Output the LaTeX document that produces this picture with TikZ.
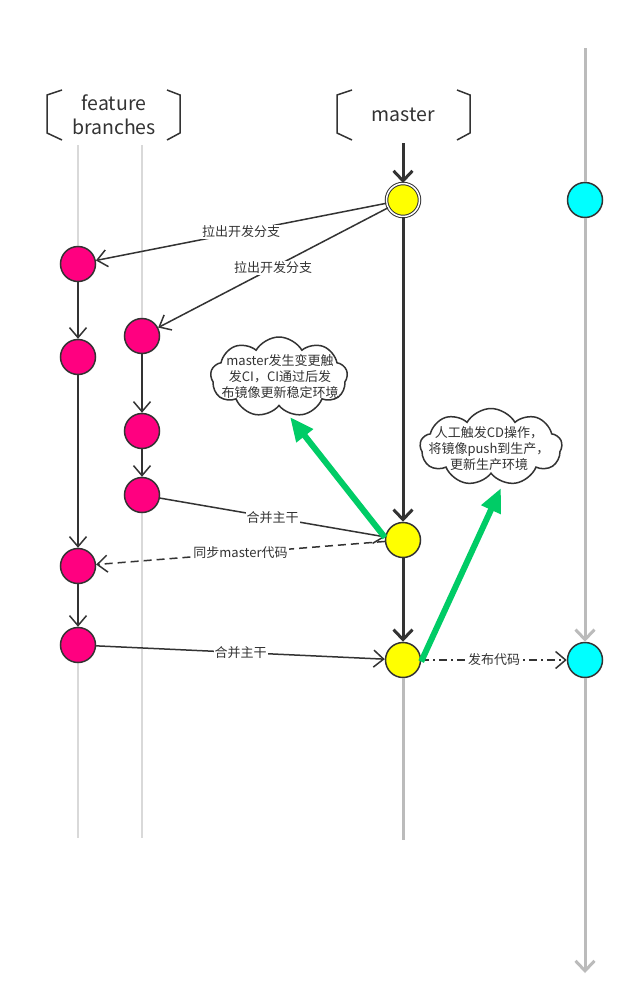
\documentclass[tikz,border=0pt]{standalone}
\usepackage{fontspec}
\setmainfont{Noto Sans CJK SC}
\usetikzlibrary{arrows.meta,shapes.symbols}
\definecolor{ink}{HTML}{333333}
\definecolor{pinkc}{HTML}{FF0080}
\definecolor{yellowc}{HTML}{FFFF00}
\definecolor{cyanc}{HTML}{00FFFF}
\definecolor{greenc}{HTML}{00CC66}
\definecolor{grayline}{HTML}{BBBBBB}
\definecolor{lightline}{HTML}{D9D9D9}
\tikzset{
  commit/.style={circle, draw=ink, line width=1.5pt, minimum size=35pt, inner sep=0pt},
  pinknode/.style={commit, fill=pinkc},
  yellownode/.style={commit, fill=yellowc},
  cyannode/.style={commit, fill=cyanc},
  startnode/.style={circle, draw=ink, line width=1pt, double=white, double distance=1.5pt, fill=yellowc, minimum size=33pt, inner sep=0pt},
  flow/.style={draw=ink, line width=1.5pt, -{Straight Barb[length=10pt,width=17pt]}},
  mainflow/.style={draw=ink, line width=3pt, -{Straight Barb[length=10pt,width=19pt]}},
  grayflow/.style={draw=grayline, line width=3pt, -{Straight Barb[length=10pt,width=19pt]}},
  grayplain/.style={draw=grayline, line width=3pt},
  lightplain/.style={draw=lightline, line width=1.8pt},
  greenarrow/.style={draw=greenc, line width=6pt, -{Triangle[length=24pt,width=20pt]}},
  lbl/.style={fill=white, inner sep=1pt, text=ink, font=\fontsize{13}{15}\selectfont},
  bracketline/.style={draw=ink, line width=1.5pt},
  title/.style={text=ink, align=center, font=\fontsize{19.5}{24}\selectfont},
  cloudbox/.style={cloud, cloud puffs=9, cloud puff arc=120, cloud ignores aspect, draw=ink, line width=1.5pt, fill=white, inner sep=0pt},
  cloudtext/.style={text=ink, align=center, font=\fontsize{13}{16}\selectfont, inner sep=0pt},
}
\begin{document}
\begin{tikzpicture}[x=1pt,y=-1pt]
\useasboundingbox[fill=white] (0,0) rectangle (635,1004);

% headers
\draw[bracketline] (62,90) -- (47,95) -- (47,133) -- (62,140);
\draw[bracketline] (167,90) -- (180,95) -- (180,133) -- (167,140);
\node[title] (fb) at (114,115) {feature\\branches};
\draw[bracketline] (352,90) -- (337,95) -- (337,133) -- (352,140);
\draw[bracketline] (457,90) -- (470,95) -- (470,133) -- (457,140);
\node[title] (ms) at (403,115) {master};

% lane coordinates
\coordinate (fa top) at (78,145);
\coordinate (fa bot) at (78,838);
\coordinate (fb top) at (142,145);
\coordinate (fb bot) at (142,838);
\coordinate (m top) at (403,143);
\coordinate (m bot) at (403,840);
\coordinate (r top) at (585,48);
\coordinate (r bot) at (585,973);

% background lanes
\draw[lightplain] (fa top) -- (fa bot);
\draw[lightplain] (fb top) -- (fb bot);

% commits
\node[startnode] (y1) at (403,200) {};
\node[yellownode] (y2) at (403,540) {};
\node[yellownode] (y3) at (403,660) {};
\node[cyannode] (c1) at (585,200) {};
\node[cyannode] (c2) at (585,660) {};
\node[pinknode] (p1) at (78,264) {};
\node[pinknode] (p2) at (78,357) {};
\node[pinknode] (p3) at (142,336) {};
\node[pinknode] (p4) at (142,431) {};
\node[pinknode] (p5) at (142,495) {};
\node[pinknode] (p6) at (78,566) {};
\node[pinknode] (p7) at (78,645) {};

% master / release lanes
\draw[mainflow] (m top) -- (y1);
\draw[mainflow] (y1) -- (y2);
\draw[mainflow] (y2) -- (y3);
\draw[grayplain] (y3) -- (m bot);
\draw[grayplain] (r top) -- (c1);
\draw[grayflow] (c1) -- (c2);
\draw[grayflow] (c2) -- (r bot);

% feature flows
\draw[flow] (p1) -- (p2);
\draw[flow] (p2) -- (p6);
\draw[flow] (p6) -- (p7);
\draw[flow] (p3) -- (p4);
\draw[flow] (p4) -- (p5);

\draw[flow] (y1) -- node[lbl, pos=0.5] {拉出开发分支} (p1);
\draw[flow] (y1) -- node[lbl, pos=0.5] {拉出开发分支} (p3);
\draw[flow] (p5) -- node[lbl, pos=0.5] {合并主干} (y2);
\draw[flow, dash pattern=on 8pt off 5pt] (y2) -- node[lbl, pos=0.5] {同步master代码} (p6);
\draw[flow] (p7) -- node[lbl, pos=0.5] {合并主干} (y3);
\draw[flow, dash pattern=on 8pt off 4pt on 2pt off 4pt] (y3) -- node[lbl, pos=0.5] {发布代码} (c2);

% clouds
\node[cloudbox, minimum width=137pt, minimum height=80pt] (k1) at (279,377) {};
\node[cloudtext] (t1) at (280,377) {master发生变更触\\发CI，CI通过后发\\布镜像更新稳定环境};
\node[cloudbox, minimum width=142pt, minimum height=77pt] (k2) at (491,447) {};
\node[cloudtext] (t2) at (489,449) {人工触发CD操作，\\将镜像push到生产，\\更新生产环境};

\coordinate (g1) at (290,417);
\coordinate (g2) at (501,488);
\draw[greenarrow] (y2.172) -- (g1);
\draw[greenarrow] (y3.-5) -- (g2);
\end{tikzpicture}
\end{document}
